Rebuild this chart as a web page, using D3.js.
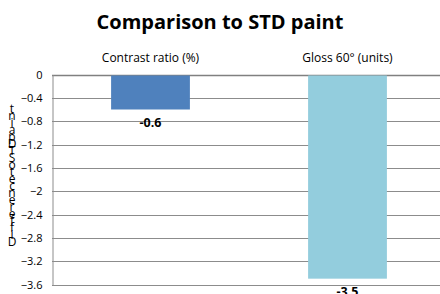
<!DOCTYPE html>
<html lang="en">
<head>
    <meta charset="UTF-8">
    <title>Comparison to STD paint</title>
    <script src="https://cdn.jsdelivr.net/npm/d3@7"></script>
    <style>
        body { margin: 0; background: #fff; }
        text { font-family: "Open Sans", Lato, sans-serif; }
    </style>
</head>
<body>
    <div id="chart"></div>

    <script>
        // data
        const categories = ["Contrast ratio (%)", "Gloss 60° (units)"];
        const values = [-0.6, -3.5];
        const colors = ["#4F81BD", "#93CDDD"];
        const yTicks = [0, -0.4, -0.8, -1.2, -1.6, -2, -2.4, -2.8, -3.2, -3.6];
        const yTitle = "Difference to STD paint";

        const width = 440, height = 294;
        const plot = { left: 52, right: 446, top: 74.5, bottom: 284.5 };

        const svg = d3.select("#chart")
            .append("svg")
            .attr("width", width)
            .attr("height", height);

        const x = d3.scaleBand()
            .domain(categories)
            .range([plot.left, plot.right])
            .paddingInner(0.6)
            .paddingOuter(0.3);

        const y = d3.scaleLinear()
            .domain([0, -3.6])
            .range([plot.top, plot.bottom]);

        // title
        svg.append("text")
            .attr("x", 220)
            .attr("y", 29)
            .attr("text-anchor", "middle")
            .attr("font-size", 20)
            .attr("font-weight", "bold")
            .text("Comparison to STD paint");

        // gridlines
        svg.append("g")
            .selectAll("line")
            .data(yTicks)
            .enter()
            .append("line")
            .attr("x1", plot.left)
            .attr("x2", plot.right)
            .attr("y1", d => Math.round(y(d)) + 0.5)
            .attr("y2", d => Math.round(y(d)) + 0.5)
            .attr("stroke", d => d === 0 ? "#808080" : "#8c8c8c")
            .attr("stroke-width", d => d === 0 ? 1.5 : 1);

        // y axis
        const yAxis = svg.append("g")
            .attr("transform", `translate(${plot.left + 0.5},0)`)
            .call(d3.axisLeft(y).tickValues(yTicks).tickSize(0).tickPadding(10)
                .tickFormat(d => d3.format("")(+d.toFixed(1))));
        yAxis.select(".domain").attr("stroke", "#8c8c8c");
        yAxis.selectAll("text")
            .attr("font-size", 11)
            .attr("fill", "#000")
            .style("font-family", "'Open Sans', Lato, sans-serif");

        // stacked y axis title, letters read from bottom to top, spaces dropped
        const chars = yTitle.replace(/ /g, "").split("");
        svg.append("g")
            .selectAll("text")
            .data(chars)
            .enter()
            .append("text")
            .attr("x", 12)
            .attr("y", (d, i) => 246 - i * 7)
            .attr("text-anchor", "middle")
            .attr("font-size", 12)
            .text(d => d);

        // category labels at the top
        svg.append("g")
            .selectAll("text")
            .data(categories)
            .enter()
            .append("text")
            .attr("x", d => x(d) + x.bandwidth() / 2)
            .attr("y", 62)
            .attr("text-anchor", "middle")
            .attr("font-size", 12)
            .text(d => d);

        // bars
        svg.append("g")
            .selectAll("rect")
            .data(values)
            .enter()
            .append("rect")
            .attr("x", (d, i) => x(categories[i]))
            .attr("y", y(0) + 1)
            .attr("width", x.bandwidth())
            .attr("height", d => y(d) - y(0) - 1)
            .attr("fill", (d, i) => colors[i]);

        // value labels
        svg.append("g")
            .selectAll("text")
            .data(values)
            .enter()
            .append("text")
            .attr("x", (d, i) => x(categories[i]) + x.bandwidth() / 2)
            .attr("y", d => y(d) + 17)
            .attr("text-anchor", "middle")
            .attr("font-size", 12.5)
            .attr("font-weight", "bold")
            .text(d => d);
    </script>
</body>
</html>
